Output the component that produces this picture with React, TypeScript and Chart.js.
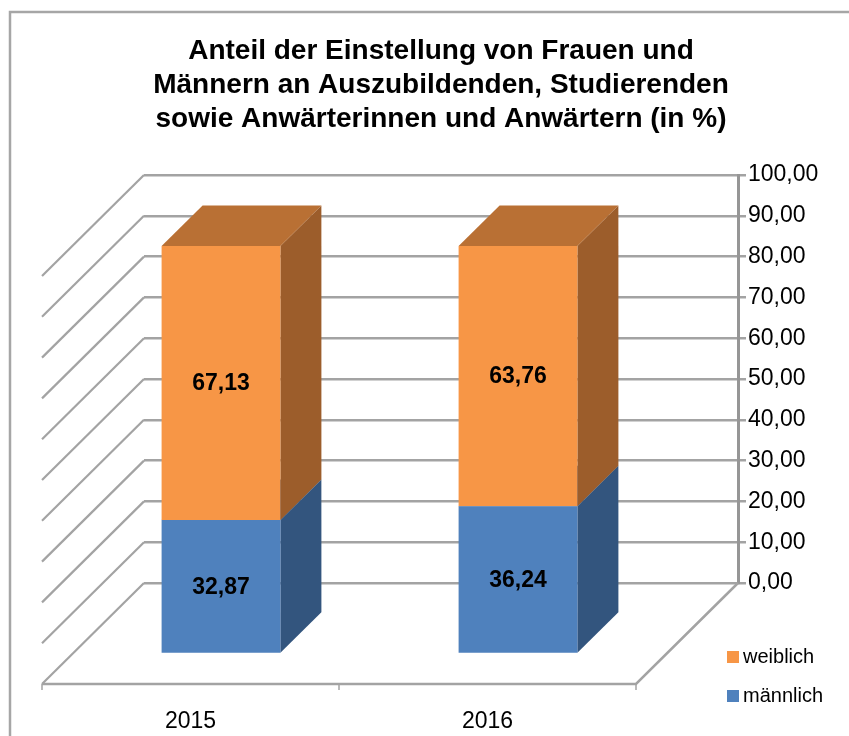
import React, { useEffect, useRef } from "react";
import { Chart, registerables } from "chart.js";

Chart.register(...registerables);

const categories = ["2015", "2016"];
const maleValues = [32.87, 36.24];
const femaleValues = [67.13, 63.76];
const titleLines = [
  "Anteil der Einstellung von Frauen und",
  "Männern an Auszubildenden, Studierenden",
  "sowie Anwärterinnen und Anwärtern (in %)",
];
const seriesNames = ["männlich", "weiblich"];

const FONT = '"Liberation Sans", Arial, sans-serif';
const GRID = "#a3a3a3";
const AXIS = "#969696";
const fmt = (v: number) => v.toFixed(2).replace(".", ",");

// depth projection, relative to the back wall
const FLOOR = { dx: -102, dy: 101 };
const BAR_FRONT = { dx: -71.5, dy: 71 };
const BAR_BACK = { dx: -30.5, dy: 30.5 };

const faces = [
  { front: "#4f81bd", side: "#33557e", top: "#3d6696" },
  { front: "#f79646", side: "#9c5d2b", top: "#b97034" },
];

function poly(ctx: CanvasRenderingContext2D, pts: number[][], fill: string) {
  ctx.beginPath();
  pts.forEach(([x, y], i) => (i ? ctx.lineTo(x, y) : ctx.moveTo(x, y)));
  ctx.closePath();
  ctx.fillStyle = fill;
  ctx.fill();
}

const frame3d = {
  id: "frame3d",
  beforeDraw(chart: any) {
    const { ctx } = chart;
    ctx.save();
    ctx.strokeStyle = "#a6a6a6";
    ctx.lineWidth = 2.5;
    ctx.beginPath();
    ctx.moveTo(10, 736);
    ctx.lineTo(10, 12);
    ctx.lineTo(849, 12);
    ctx.stroke();
    ctx.restore();
  },
  beforeDatasetsDraw(chart: any) {
    const { ctx, chartArea: a } = chart;
    const y = chart.scales.y;
    ctx.save();
    ctx.strokeStyle = GRID;
    ctx.lineWidth = 2.2;
    // left wall
    y.ticks.forEach((t: any) => {
      const py = y.getPixelForValue(t.value);
      ctx.beginPath();
      ctx.moveTo(a.left, py);
      ctx.lineTo(a.left + FLOOR.dx, py + FLOOR.dy);
      ctx.stroke();
    });
    // floor
    const by = y.getPixelForValue(0);
    ctx.lineWidth = 2.5;
    ctx.beginPath();
    ctx.moveTo(a.right, by);
    ctx.lineTo(a.right + FLOOR.dx, by + FLOOR.dy);
    ctx.lineTo(a.left + FLOOR.dx, by + FLOOR.dy);
    ctx.stroke();
    // floor ticks
    const n = categories.length;
    for (let i = 0; i <= n; i++) {
      const tx = a.left + FLOOR.dx + (i * a.width) / n;
      ctx.beginPath();
      ctx.lineWidth = 1.5;
      ctx.moveTo(tx, by + FLOOR.dy);
      ctx.lineTo(tx, by + FLOOR.dy + 6);
      ctx.stroke();
    }
    // bar side and top faces
    chart.data.datasets.forEach((_: any, di: number) => {
      chart.getDatasetMeta(di).data.forEach((el: any) => {
        const r = el.x + el.width / 2;
        const l = el.x - el.width / 2;
        const f = BAR_FRONT;
        const b = BAR_BACK;
        poly(
          ctx,
          [
            [r + f.dx, el.y + f.dy],
            [r + b.dx, el.y + b.dy],
            [r + b.dx, el.base + b.dy],
            [r + f.dx, el.base + f.dy],
          ],
          faces[di].side,
        );
        poly(
          ctx,
          [
            [l + f.dx, el.y + f.dy],
            [l + b.dx, el.y + b.dy],
            [r + b.dx, el.y + b.dy],
            [r + f.dx, el.y + f.dy],
          ],
          faces[di].top,
        );
      });
    });
    ctx.restore();
    // front faces: the chart's own bars, moved to the front plane of the box
    ctx.save();
    ctx.translate(BAR_FRONT.dx, BAR_FRONT.dy);
  },
  afterDatasetsDraw(chart: any) {
    const { ctx } = chart;
    ctx.restore();
    ctx.save();
    // value labels
    ctx.fillStyle = "#000";
    ctx.font = `bold 23px ${FONT}`;
    ctx.textAlign = "center";
    ctx.textBaseline = "middle";
    chart.data.datasets.forEach((ds: any, di: number) => {
      chart.getDatasetMeta(di).data.forEach((el: any, i: number) => {
        ctx.fillText(
          fmt(ds.data[i]),
          el.x + BAR_FRONT.dx,
          (el.y + el.base) / 2 + BAR_FRONT.dy + 1,
        );
      });
    });
    // legend
    ctx.textAlign = "left";
    ctx.font = `20px ${FONT}`;
    const rev = [...chart.data.datasets].reverse();
    rev.forEach((ds: any, i: number) => {
      const cy = 657 + i * 39;
      ctx.fillStyle = ds.backgroundColor;
      ctx.fillRect(727, cy - 6, 12, 12);
      ctx.fillStyle = "#000";
      ctx.fillText(ds.label, 743, cy);
    });
    ctx.restore();
  },
};

export default function App() {
  const ref = useRef<HTMLCanvasElement>(null);
  useEffect(() => {
    const chart = new Chart(ref.current as HTMLCanvasElement, {
      type: "bar",
      data: {
        labels: categories,
        datasets: [
          { label: seriesNames[0], data: maleValues, backgroundColor: faces[0].front, clip: false },
          { label: seriesNames[1], data: femaleValues, backgroundColor: faces[1].front, clip: false },
        ] as any,
      },
      plugins: [frame3d],
      options: {
        animation: false,
        responsive: false,
        layout: { padding: { left: 144, top: 0, right: 0, bottom: 0 } },
        datasets: { bar: { categoryPercentage: 1, barPercentage: 0.4 } },
        plugins: {
          legend: { display: false },
          tooltip: { enabled: false },
          title: {
            display: true,
            text: titleLines,
            fullSize: false,
            color: "#000",
            font: { family: FONT, size: 28, weight: "bold", lineHeight: 34 / 28 },
            padding: { top: 34, bottom: 39 },
          },
        },
        scales: {
          x: {
            stacked: true,
            grid: { display: false },
            border: { display: false },
            ticks: {
              color: "#000",
              font: { family: FONT, size: 23 },
              padding: 117,
              labelOffset: -102,
              maxRotation: 0,
            },
            afterFit(s: any) {
              s.height = 153;
            },
          },
          y: {
            position: "right",
            stacked: true,
            min: 0,
            max: 100,
            grid: { color: GRID, lineWidth: 2.5, tickLength: 8 },
            border: { color: AXIS, width: 3 },
            ticks: {
              stepSize: 10,
              color: "#000",
              font: { family: FONT, size: 23 },
              padding: 2,
              callback: (v: any) => fmt(Number(v)),
            },
            afterFit(s: any) {
              s.width = 111;
            },
          },
        },
      } as any,
    });
    return () => chart.destroy();
  }, []);
  return (
    <canvas
      ref={ref}
      width={849}
      height={736}
      style={{ position: "absolute", left: 0, top: 0, width: 849, height: 736, display: "block" }}
    />
  );
}
